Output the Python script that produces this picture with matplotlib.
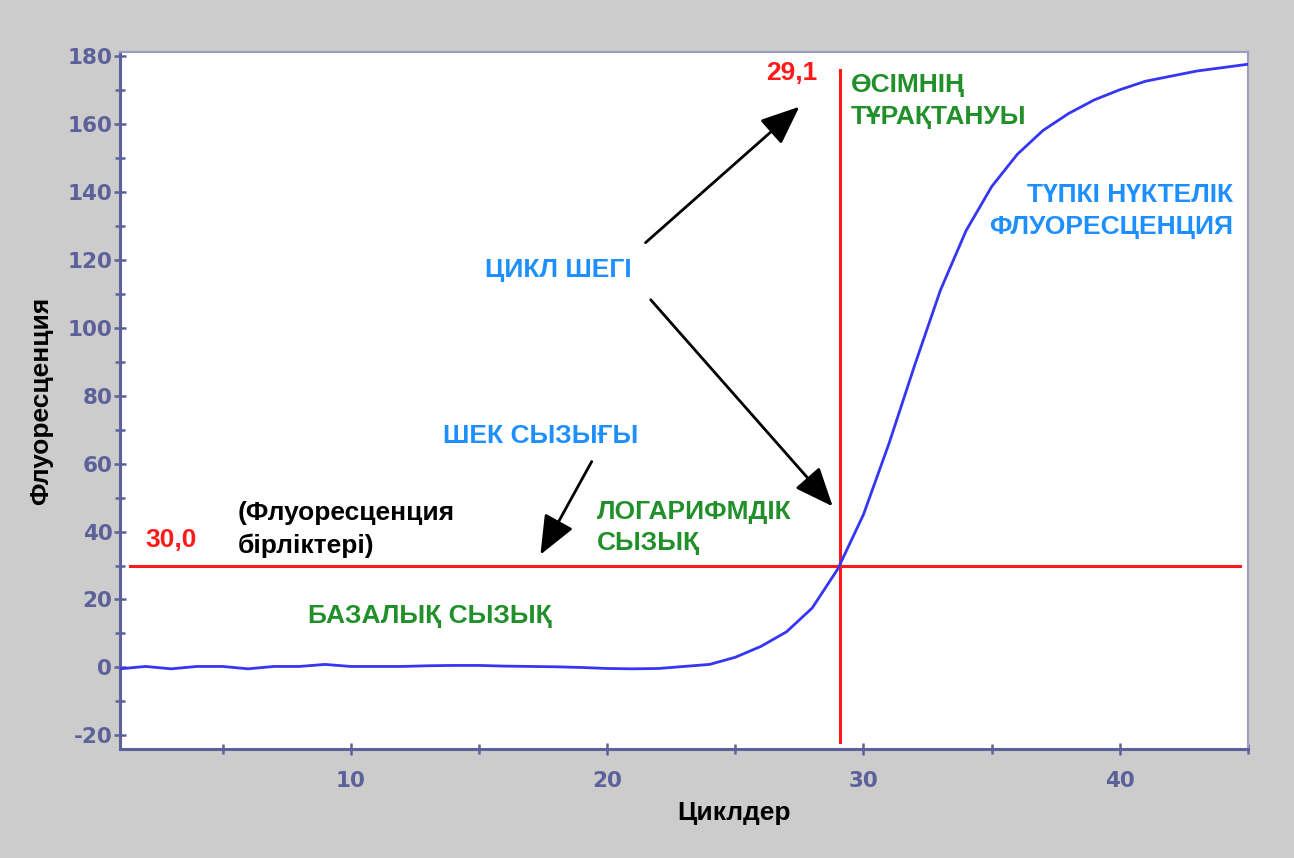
import numpy as np
import matplotlib.pyplot as plt

plt.rcParams['axes.unicode_minus'] = False

# amplification curve, one reading per cycle
cycles = np.arange(1, 46)
fluor = [-0.4, 0.3, -0.4, 0.3, 0.3, -0.4, 0.3, 0.3, 0.9, 0.3,
         0.3, 0.3, 0.5, 0.6, 0.6, 0.4, 0.3, 0.2, 0.0, -0.3,
         -0.4, -0.3, 0.3, 0.9, 3.0, 6.2, 10.5, 17.5, 29.0, 45.0,
         66.0, 89.0, 111.0, 128.5, 141.5, 151.0, 158.0, 163.0, 167.0, 170.0,
         172.5, 174.0, 175.5, 176.5, 177.5]

threshold = 30.0   # threshold line level
ct = 29.1          # threshold cycle

yticks = [-20, 0, 20, 40, 60, 80, 100, 120, 140, 160, 180]
xticks = [10, 20, 30, 40]

axis_col = '#5c6199'
blue = '#1e8fff'
green = '#22902a'
red = '#ff1a1a'

fig = plt.figure(figsize=(12.94, 8.58), dpi=100, facecolor='#cccccc')
ax = fig.add_axes([0.0927, 0.127, 0.8718, 0.812])
ax.set_facecolor('white')

ax.plot(cycles, fluor, color='#3535f5', lw=2.0, zorder=3)
ax.plot([1.4, 44.7], [threshold, threshold], color=red, lw=2.2, zorder=2)
ax.plot([ct, ct], [-21.8, 175.9], color=red, lw=2.2, zorder=2)

ax.set_xlim(1, 45)
ax.set_ylim(-24, 181)
ax.set_xticks(xticks)
ax.set_xticks([5, 15, 25, 35, 45], minor=True)
ax.set_yticks(yticks)
ax.set_yticks(np.arange(-10, 180, 20), minor=True)
ax.tick_params(which='both', direction='inout', colors=axis_col, width=1.8)
ax.tick_params(which='major', length=9)
ax.tick_params(which='minor', length=7)
ax.tick_params(axis='y', pad=1)
ax.tick_params(axis='x', pad=11)
for lab in ax.get_xticklabels() + ax.get_yticklabels():
    lab.set_fontsize(15.5)
    lab.set_fontweight('bold')
    lab.set_color(axis_col)
for side in ['left', 'bottom']:
    ax.spines[side].set_color(axis_col)
    ax.spines[side].set_linewidth(2.2)
for side in ['top', 'right']:
    ax.spines[side].set_color('#9a9cc0')
    ax.spines[side].set_linewidth(1.5)

ax.set_xlabel('Циклдер', fontsize=19, fontweight='bold', family='Liberation Sans', labelpad=6)
ax.xaxis.set_label_coords(0.544, -0.075)
ax.set_ylabel('Флуоресценция', fontsize=19, fontweight='bold', family='Liberation Sans', labelpad=10)

txt = dict(fontsize=19, fontweight='bold', family='Liberation Sans')
ax.text(28.2, 175, f'{ct:.1f}'.replace('.', ','), color=red, ha='right', va='center', **txt)
ax.text(2.0, 37.6, f'{threshold:.1f}'.replace('.', ','), color=red, ha='left', va='center', **txt)
ax.text(29.5, 166.7, 'ӨСІМНІҢ\nТҰРАҚТАНУЫ', color=green, ha='left', va='center', linespacing=1.4, **txt)
ax.text(44.4, 134.4, 'ТҮПКІ НҮКТЕЛІК\nФЛУОРЕСЦЕНЦИЯ', color=blue, ha='right', va='center', linespacing=1.4, **txt)
ax.text(18.1, 117, 'ЦИКЛ ШЕГІ', color=blue, ha='center', va='center', **txt)
ax.text(17.4, 68.2, 'ШЕК СЫЗЫҒЫ', color=blue, ha='center', va='center', **txt)
ax.text(19.6, 41.2, 'ЛОГАРИФМДІК\nСЫЗЫҚ', color=green, ha='left', va='center', linespacing=1.4, **txt)
ax.text(5.6, 40.6, '(Флуоресценция\nбірліктері)', color='black', ha='left', va='center', linespacing=1.4, **txt)
ax.text(13.1, 15, 'БАЗАЛЫҚ СЫЗЫҚ', color=green, ha='center', va='center', **txt)

arrow = dict(arrowstyle='-|>,head_length=1.2,head_width=0.5', mutation_scale=20,
             color='black', lw=2, shrinkA=0, shrinkB=0)
ax.annotate('', xy=(27.5, 165), xytext=(21.5, 125), arrowprops=arrow)
ax.annotate('', xy=(28.8, 47.4), xytext=(21.7, 108.2), arrowprops=arrow)
ax.annotate('', xy=(17.4, 33.2), xytext=(19.4, 60.6), arrowprops=arrow)

fig.savefig('out.png', dpi=100, facecolor=fig.get_facecolor())
